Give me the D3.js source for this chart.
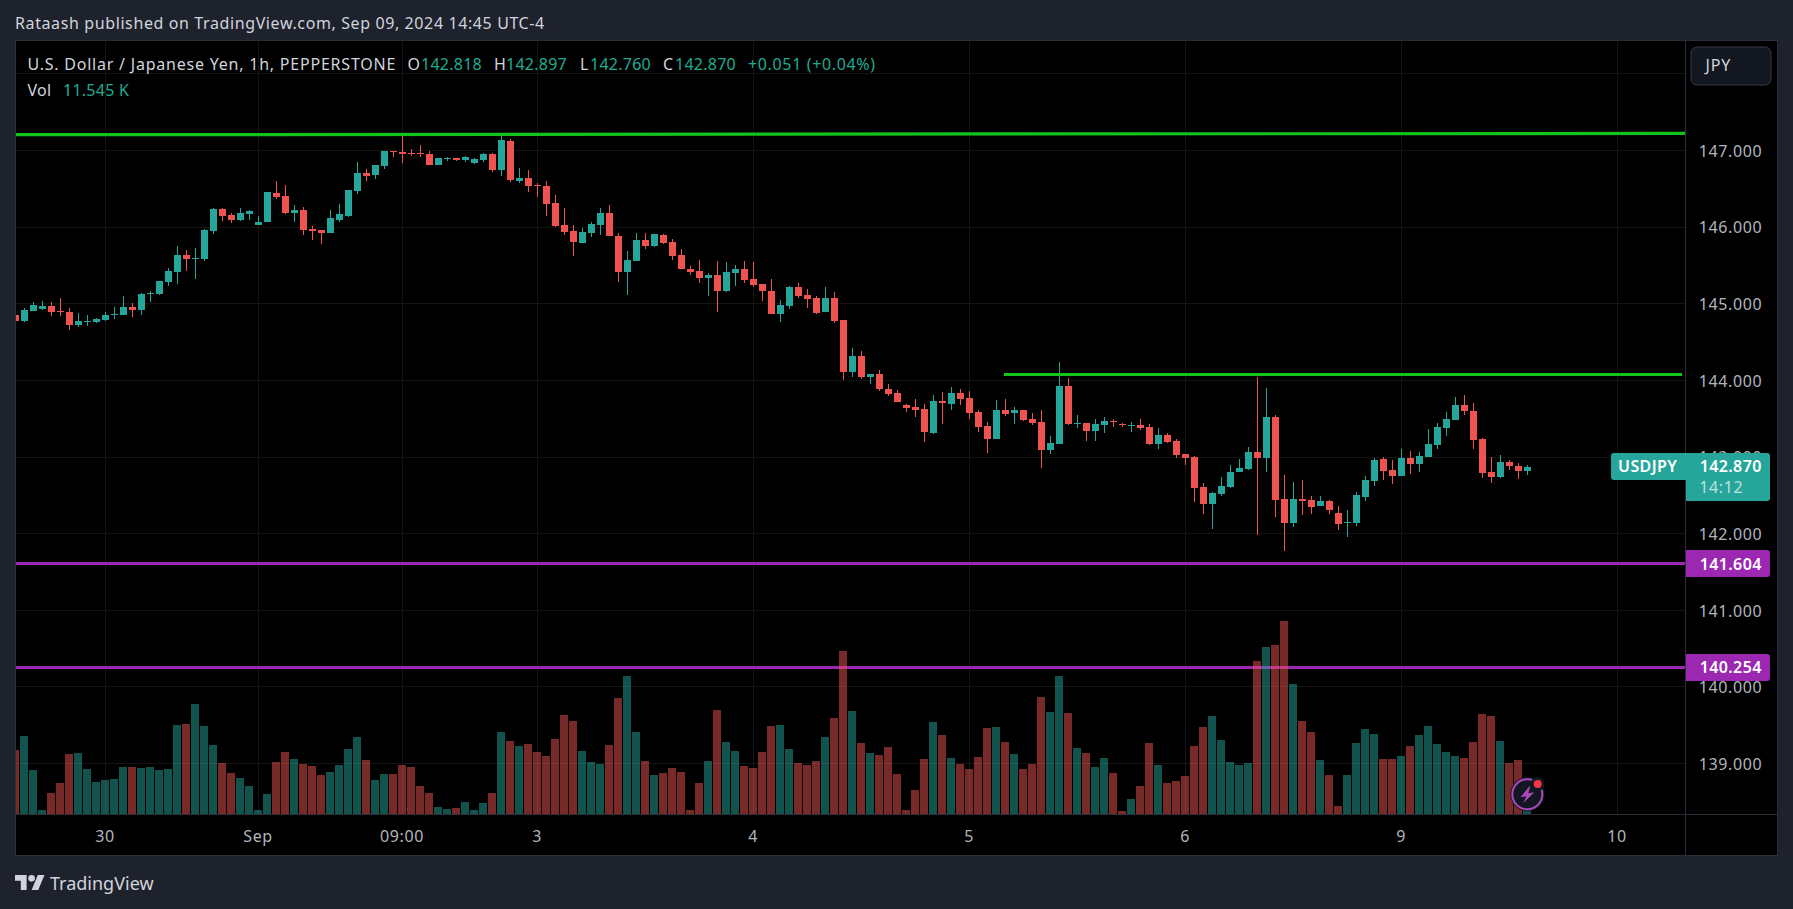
<!DOCTYPE html>
<html>
<head>
<meta charset="utf-8">
<script src="https://cdn.jsdelivr.net/npm/d3@7"></script>
<style>
html,body{margin:0;padding:0;background:#1e222d;overflow:hidden}
svg{display:block}
text{font-family:"Noto Sans",sans-serif}
</style>
</head>
<body>
<div id="chart"></div>
<script>
const opens=[144.853,144.775,144.905,144.932,144.971,144.905,144.892,144.723,144.762,144.762,144.788,144.853,144.853,144.958,144.918,145.127,145.127,145.284,145.414,145.636,145.584,145.584,145.949,146.237,146.158,146.093,146.171,146.028,146.067,146.445,146.406,146.184,146.224,145.976,145.962,145.923,146.093,146.145,146.471,146.706,146.680,146.798,146.994,146.981,146.967,146.967,146.955,146.811,146.889,146.902,146.876,146.837,146.876,146.955,146.745,147.124,146.602,146.641,146.550,146.537,146.315,146.028,145.949,145.793,145.923,146.028,146.184,145.884,145.414,145.558,145.832,145.754,145.897,145.806,145.636,145.453,145.427,145.336,145.375,145.166,145.401,145.453,145.323,145.258,145.166,144.866,144.971,145.219,145.114,145.075,144.892,145.075,144.788,144.109,144.318,144.044,144.083,143.887,143.835,143.679,143.653,143.627,143.313,143.731,143.692,143.835,143.770,143.588,143.405,143.235,143.614,143.574,143.614,143.496,143.457,143.092,143.170,143.927,143.431,143.444,143.339,143.418,143.470,143.431,143.405,143.418,143.392,143.170,143.287,143.209,143.039,143.000,142.609,142.387,142.517,142.609,142.804,142.843,143.065,142.987,143.522,142.452,142.139,142.452,142.439,142.361,142.426,142.269,142.139,142.139,142.478,142.687,142.974,142.830,142.752,142.987,142.909,143.000,143.157,143.379,143.483,143.679,143.600,143.235,142.804,142.739,142.935,142.883,142.818];
const highs=[144.905,144.945,145.023,145.036,145.023,145.075,144.945,144.879,144.853,144.814,144.892,144.958,145.101,145.010,145.140,145.166,145.297,145.466,145.754,145.701,145.728,145.976,146.250,146.250,146.184,146.250,146.224,146.145,146.458,146.602,146.550,146.289,146.263,146.015,145.962,146.224,146.302,146.485,146.850,146.758,146.811,146.994,146.994,147.189,147.020,147.072,146.994,146.902,146.915,146.902,146.928,146.902,146.967,146.967,147.202,147.150,146.772,146.745,146.576,146.602,146.419,146.250,146.028,145.989,146.067,146.250,146.289,145.923,145.688,145.923,145.923,145.910,145.910,145.845,145.715,145.493,145.571,145.401,145.558,145.545,145.506,145.558,145.545,145.258,145.323,145.049,145.232,145.271,145.192,145.101,145.219,145.153,144.788,144.423,144.383,144.083,144.135,143.953,143.874,143.692,143.757,143.692,143.809,143.848,143.914,143.887,143.861,143.614,143.457,143.744,143.757,143.653,143.614,143.574,143.614,143.274,144.240,144.031,143.548,143.444,143.496,143.522,143.496,143.444,143.457,143.496,143.431,143.379,143.313,143.235,143.039,143.013,142.661,142.543,142.739,142.896,142.974,143.131,144.044,143.901,143.548,142.765,142.674,142.700,142.491,142.491,142.439,142.361,142.308,142.543,142.752,142.987,143.000,142.961,143.105,143.078,143.065,143.366,143.444,143.587,143.783,143.809,143.705,143.248,143.000,143.026,142.961,142.922,142.897];
const lows=[144.736,144.762,144.905,144.918,144.840,144.840,144.657,144.697,144.710,144.749,144.775,144.801,144.853,144.827,144.853,145.023,145.114,145.232,145.258,145.427,145.323,145.558,145.910,146.080,146.054,146.080,146.093,146.028,146.067,146.367,146.171,146.067,145.897,145.832,145.780,145.923,146.067,146.132,146.432,146.602,146.628,146.758,146.915,146.837,146.928,146.915,146.811,146.811,146.863,146.863,146.850,146.824,146.850,146.719,146.667,146.589,146.576,146.458,146.393,146.145,146.002,145.897,145.623,145.793,145.871,145.897,145.884,145.284,145.114,145.558,145.715,145.741,145.780,145.571,145.453,145.375,145.271,145.101,144.892,145.153,145.232,145.271,145.219,145.036,144.866,144.762,144.932,145.075,144.945,144.866,144.892,144.749,144.005,144.044,144.018,143.953,143.861,143.796,143.718,143.588,143.522,143.196,143.300,143.431,143.614,143.679,143.496,143.326,143.052,143.235,143.535,143.431,143.470,143.418,142.857,143.039,143.170,143.418,143.379,143.209,143.209,143.313,143.392,143.392,143.326,143.353,143.157,143.105,143.183,142.987,142.896,142.413,142.256,142.061,142.491,142.596,142.804,142.830,141.982,142.804,142.217,141.773,142.087,142.243,142.256,142.361,142.256,142.047,141.956,142.100,142.426,142.622,142.700,142.648,142.752,142.778,142.804,143.000,143.105,143.274,143.483,143.548,143.105,142.726,142.661,142.726,142.830,142.713,142.760];
const closes=[144.775,144.918,144.984,144.971,144.892,144.892,144.723,144.775,144.775,144.801,144.853,144.866,144.958,144.918,145.127,145.140,145.297,145.427,145.636,145.584,145.597,145.962,146.237,146.145,146.093,146.184,146.210,146.067,146.458,146.393,146.184,146.224,145.962,145.949,145.923,146.119,146.171,146.485,146.706,146.667,146.811,146.994,146.981,146.955,146.955,146.955,146.811,146.902,146.902,146.876,146.915,146.889,146.955,146.745,147.137,146.615,146.641,146.537,146.537,146.302,146.015,145.936,145.806,145.936,146.041,146.184,145.884,145.414,145.571,145.832,145.754,145.910,145.793,145.623,145.453,145.414,145.336,145.375,145.166,145.414,145.453,145.310,145.245,145.166,144.866,144.984,145.219,145.101,145.062,144.879,145.075,144.775,144.109,144.318,144.044,144.083,143.887,143.822,143.718,143.640,143.614,143.326,143.731,143.705,143.835,143.757,143.574,143.392,143.235,143.614,143.561,143.614,143.483,143.444,143.092,143.183,143.927,143.431,143.444,143.339,143.431,143.470,143.457,143.418,143.418,143.379,143.170,143.287,143.196,143.026,142.987,142.596,142.387,142.530,142.622,142.804,142.857,143.065,142.987,143.522,142.439,142.139,142.452,142.426,142.348,142.426,142.308,142.126,142.152,142.504,142.700,142.961,142.817,142.752,142.987,142.909,143.013,143.170,143.392,143.496,143.679,143.600,143.222,142.791,142.739,142.935,142.883,142.817,142.870];
const volumes=[32,39,22,2,10.5,15.5,30,30.5,22.5,16,17,17.5,23.5,23.5,23,23.5,22,22.5,44.5,45,55,44,34.5,25.5,20.5,18,14,2,10,26,31,27.5,25,24,19.5,21,24.5,32.5,38.5,27,17,20,20,24.5,23.5,14,10.5,3.5,2.5,3,6,2,5.5,10.5,41,36.5,34,35,31,29,37.5,49.5,46.5,31.5,26,25,34.5,58,69,41,26.5,19.5,20.5,23,21,2,15.5,26.5,52,36,31.5,24,23,31,44,44.5,32.5,25.5,24.5,26.5,38.5,48,81.5,51.5,35.5,30.5,29.5,33.5,20,2,12,27.5,46,39.5,28,25,22.5,28.5,43,43.5,36,30,22.5,25,58.5,51,69,50.5,33,30.5,23.5,28,20.5,1.5,7.5,14,35.5,24.5,15.5,16.5,19,34,43.5,49,37,26,24.5,25.5,76.5,83.5,84.5,96.5,65,46.5,41,27,19.5,4,19.5,35.5,42.5,40,27.5,27.5,29,34,39.5,44,35,31,29,28,36,50,49,36.5,25.5,27,11.545];
const priceTicks=[147,146,145,144,143,142,141,140,139];
const gridPrices=[148,147,146,145,144,143,142,141,140,139];
const timeBars=[10,27,43,58,82,106,130,154,178];
const timeLabels=["30","Sep","09:00","3","4","5","6","9","10"];
const supportLevels=[141.604,140.254];
const resistanceTop=[147.206,147.223];
const resistanceMid=144.079;
const lastPrice=142.870;

const W=1793,H=909;
const L=15,R=1685,T=41,B=814,PR=1777,PB=855;
const UP="#26a69a",DOWN="#ef5350",GREEN="#12c41c",PURPLE="#9c27b0",GRID="#141414",BORDER="#2a2e39",AXIS="#b2b5be";

const x=d3.scaleLinear().domain([0,168]).range([15.5,1527.5]);
const y=d3.scaleLinear().domain([147,139]).range([150.5,763.5]);
const vy=d3.scaleLinear().domain([0,100]).range([B,B-200]);
const px=v=>Math.round(v);
const snap=v=>Math.floor(v)+.5;

const svg=d3.select("#chart").append("svg").attr("width",W).attr("height",H);
svg.append("rect").attr("width",W).attr("height",H).attr("fill","#1e222d");
svg.append("rect").attr("x",L).attr("y",T-1).attr("width",PR-L+1).attr("height",PB-T+2)
  .attr("fill","#000");
svg.append("clipPath").attr("id","pane").append("rect").attr("x",L).attr("y",T).attr("width",R-L).attr("height",B-T);

const pane=svg.append("g").attr("clip-path","url(#pane)").attr("shape-rendering","crispEdges");

// grid
pane.append("g").selectAll("line").data(gridPrices).join("line")
  .attr("x1",L).attr("x2",R).attr("y1",d=>snap(y(d))).attr("y2",d=>snap(y(d))).attr("stroke",GRID);
pane.append("g").selectAll("line").data(timeBars).join("line")
  .attr("y1",T).attr("y2",B).attr("x1",d=>x(d)).attr("x2",d=>x(d)).attr("stroke",GRID);

// candles
const bars=opens.map((o,i)=>({i,o,h:highs[i],l:lows[i],c:closes[i],v:volumes[i]}));
const col=d=>d.c>=d.o?UP:DOWN;
pane.append("g").selectAll("rect").data(bars).join("rect")
  .attr("x",d=>x(d.i)-.5).attr("width",1)
  .attr("y",d=>px(y(d.h))).attr("height",d=>Math.max(1,px(y(d.l))-px(y(d.h))))
  .attr("fill",col);
pane.append("g").selectAll("rect").data(bars).join("rect")
  .attr("x",d=>x(d.i)-3.5).attr("width",7)
  .attr("y",d=>px(y(Math.max(d.o,d.c)))).attr("height",d=>Math.max(1,px(y(Math.min(d.o,d.c)))-px(y(Math.max(d.o,d.c)))))
  .attr("fill",col);

// drawn levels
const lineG=pane.append("g");
lineG.append("line").attr("x1",L).attr("x2",R).attr("y1",y(resistanceTop[0])).attr("y2",y(resistanceTop[1]))
  .attr("stroke",GREEN).attr("stroke-width",3.2).attr("shape-rendering","auto");
lineG.append("line").attr("x1",x(109.8)).attr("x2",x(185.2)).attr("y1",snap(y(resistanceMid))).attr("y2",snap(y(resistanceMid)))
  .attr("stroke",GREEN).attr("stroke-width",3);
lineG.selectAll(".s").data(supportLevels).join("line").attr("class","s")
  .attr("x1",L).attr("x2",R).attr("y1",d=>snap(y(d))).attr("y2",d=>snap(y(d)))
  .attr("stroke",PURPLE).attr("stroke-width",3);

// volume
pane.append("g").selectAll("rect").data(bars).join("rect")
  .attr("x",d=>x(d.i)-4.5).attr("width",8)
  .attr("y",d=>px(vy(d.v))).attr("height",d=>B-px(vy(d.v)))
  .attr("fill",col).attr("fill-opacity",.5);

// frame lines
const frame=svg.append("g").attr("shape-rendering","crispEdges").attr("fill","none").attr("stroke",BORDER);
frame.append("rect").attr("x",L+.5).attr("y",T-.5).attr("width",PR-L).attr("height",PB-T+1);
frame.append("line").attr("x1",R+.5).attr("x2",R+.5).attr("y1",T).attr("y2",PB);
frame.append("line").attr("x1",L).attr("x2",PR).attr("y1",B+.5).attr("y2",B+.5);

// price axis
const axisY=svg.append("g").attr("transform",`translate(${R},0)`)
  .call(d3.axisRight(y).tickValues(priceTicks).tickFormat(d3.format(".3f")).tickSize(0));
axisY.select(".domain").remove();
axisY.selectAll("text").attr("x",45.5).attr("dy",".36em").attr("text-anchor","middle")
  .attr("fill",AXIS).style("font-size","16px").style("letter-spacing",".6px").style("font-family",'"Noto Sans"');

// time axis
const axisX=svg.append("g").attr("transform",`translate(-1,${B})`)
  .call(d3.axisBottom(x).tickValues(timeBars).tickFormat((d,i)=>timeLabels[i]).tickSize(0));
axisX.select(".domain").remove();
axisX.selectAll("text").attr("y",22).attr("dy",".36em")
  .attr("fill",AXIS).style("font-size","16px").style("letter-spacing",".6px").style("font-family",'"Noto Sans"');

// price tags
function tag(x0,y0,w,h,fill,rl,rr){
  const p=d3.path();
  p.moveTo(x0+rl,y0);p.lineTo(x0+w-rr,y0);p.arcTo(x0+w,y0,x0+w,y0+rr,rr);
  p.lineTo(x0+w,y0+h-rr);p.arcTo(x0+w,y0+h,x0+w-rr,y0+h,rr);
  p.lineTo(x0+rl,y0+h);p.arcTo(x0,y0+h,x0,y0+h-rl,rl);
  p.lineTo(x0,y0+rl);p.arcTo(x0,y0,x0+rl,y0,rl);p.closePath();
  svg.append("path").attr("d",p.toString()).attr("fill",fill);
}
function label(t,xx,yy,o={}){
  return svg.append("text").attr("x",xx).attr("y",yy).attr("dy",".36em").text(t)
    .attr("text-anchor",o.anchor||"start").attr("fill",o.fill||"#d1d4dc")
    .attr("fill-opacity",o.opacity==null?1:o.opacity)
    .attr("font-weight",o.weight||400).style("font-size",(o.size||16)+"px")
    .style("letter-spacing",(o.ls==null?.6:o.ls)+"px");
}
tag(1611,453,75,27,UP,3,0);
tag(1686,453,84,48,UP,0,3);
label("USDJPY",1647.7,466.7,{anchor:"middle",fill:"#fff",weight:600,ls:.4});
label(d3.format(".3f")(lastPrice),1730.7,466.7,{anchor:"middle",fill:"#fff",weight:600,ls:.4});
label("14:12",1699.3,487.7,{fill:"#fff",opacity:.7});
supportLevels.forEach(v=>{
  tag(1686,Math.floor(y(v))-13,84,27,PURPLE,0,3);
  label(d3.format(".3f")(v),1730.7,y(v)+.2,{anchor:"middle",fill:"#fff",weight:600,ls:.4});
});

// top-right currency button
svg.append("rect").attr("x",1691).attr("y",47).attr("width",80).attr("height",38).attr("rx",6)
  .attr("fill","#131722").attr("stroke","#363a45");
label("JPY",1705.5,65,{ls:.8});

// header and legend
label("Rataash published on TradingView.com, Sep 09, 2024 14:45 UTC-4",15,23,{ls:.61,fill:"#d1d4dc"});
label("U.S. Dollar / Japanese Yen, 1h, PEPPERSTONE",27.5,64,{ls:.78});
const legendBits=[["O",407.6,0,.25],["142.818",421,1,.25],["H",494,0,.25],["142.897",506,1,.25],["L",580,0,.25],["142.760",590,1,.25],["C",663,0,.25],["142.870",675,1,.25],["+0.051 (+0.04%)",748,1,.65]];
legendBits.forEach(b=>label(b[0],b[1],64,{fill:b[2]?"#22ab94":"#d1d4dc",ls:b[3]}));
label("Vol",27.5,90,{ls:.25});
label("11.545 K",63,90,{fill:"#22ab94",ls:.25});

// footer logo
const logo=svg.append("g").attr("transform","translate(15,871.7) scale(.83)").attr("fill","#d1d4dc");
logo.append("path").attr("d","M14 22H7V11H0V4h14v18zM28 22h-8l7.5-18h8L28 22z");
logo.append("circle").attr("cx",20).attr("cy",8).attr("r",4);
label("TradingView",50,883.3,{size:18,ls:0});

// lightning badge
const badge=svg.append("g").attr("transform","translate(1527.3,794.3)");
badge.append("circle").attr("r",17).attr("fill","#1a1e2b");
badge.append("circle").attr("r",15).attr("fill","#131722").attr("stroke","#ab47bc").attr("stroke-width",2);
badge.append("path").attr("d","M3 -9 L-7 3 L-1 2 L-4 9 L7 -2 L1 -1 Z").attr("fill","#ab47bc");
badge.append("circle").attr("cx",10.4).attr("cy",-10.3).attr("r",7).attr("fill","#131722");
badge.append("circle").attr("cx",10.4).attr("cy",-10.3).attr("r",4).attr("fill","#f23645");
</script>
</body>
</html>
